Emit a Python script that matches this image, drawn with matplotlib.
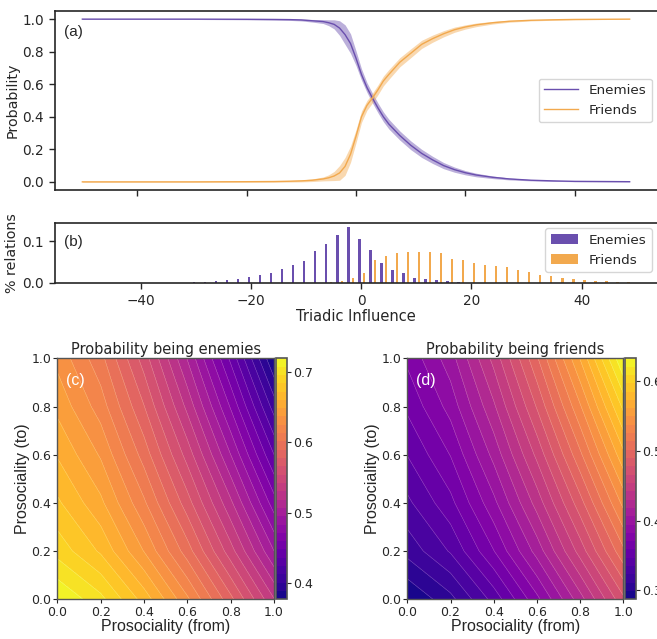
import numpy as np
import matplotlib.pyplot as plt

# --- panel (a): probability vs triadic influence ---
infl = [-50, -30, -20, -15, -12, -10, -8, -6, -5, -4, -3, -2, -1, 0, 1, 2, 3, 4, 5, 6,
        8, 10, 12, 14, 16, 18, 20, 22, 25, 28, 32, 36, 40, 50]
enemies_p = [1.0, 1.0, 0.999, 0.998, 0.997, 0.995, 0.99, 0.985, 0.978, 0.968, 0.945, 0.905,
             0.85, 0.76, 0.66, 0.58, 0.515, 0.455, 0.40, 0.355, 0.285, 0.225, 0.175, 0.135,
             0.10, 0.075, 0.056, 0.042, 0.028, 0.018, 0.01, 0.006, 0.003, 0.001]
friends_p = [0.0, 0.0, 0.001, 0.002, 0.004, 0.006, 0.01, 0.018, 0.025, 0.036, 0.055, 0.095,
             0.17, 0.28, 0.40, 0.47, 0.515, 0.565, 0.62, 0.66, 0.735, 0.79, 0.845, 0.88,
             0.91, 0.935, 0.952, 0.965, 0.978, 0.987, 0.993, 0.996, 0.998, 1.0]
# half width of the shaded band
enemies_err = [0.002, 0.002, 0.003, 0.004, 0.005, 0.006, 0.008, 0.012, 0.018, 0.028, 0.045, 0.06,
               0.06, 0.045, 0.035, 0.03, 0.03, 0.03, 0.03, 0.03, 0.028, 0.027, 0.025, 0.022,
               0.019, 0.016, 0.013, 0.011, 0.008, 0.006, 0.004, 0.003, 0.002, 0.001]
friends_err = [0.002, 0.002, 0.003, 0.004, 0.005, 0.006, 0.008, 0.012, 0.018, 0.028, 0.045, 0.055,
               0.05, 0.04, 0.035, 0.03, 0.03, 0.03, 0.03, 0.03, 0.028, 0.027, 0.025, 0.022,
               0.019, 0.016, 0.013, 0.011, 0.008, 0.006, 0.004, 0.003, 0.002, 0.001]

# --- panel (b): share of relations ---
bins = list(range(-50, 50, 2))
enemies_rel = [0] * 10 + [0.002, 0.002, 0.005, 0.007, 0.009, 0.014, 0.018, 0.025, 0.033, 0.044,
                          0.053, 0.076, 0.094, 0.115, 0.133, 0.105, 0.078, 0.048, 0.030, 0.024,
                          0.011, 0.009, 0.006, 0.004, 0.003] + [0] * 15
friends_rel = [0] * 22 + [0.002, 0.004, 0.013, 0.025, 0.054, 0.065, 0.071, 0.075, 0.075, 0.073,
                          0.071, 0.057, 0.054, 0.048, 0.044, 0.040, 0.037, 0.032, 0.027, 0.018,
                          0.017, 0.012, 0.010, 0.006, 0.005, 0.004, 0.002, 0.002]

# --- panels (c), (d): prosociality grids (rows = to, cols = from) ---
pros = [0.0, 0.2, 0.4, 0.6, 0.8, 1.0]
enemies_grid = [
    [0.719, 0.699, 0.667, 0.627, 0.581, 0.531],
    [0.691, 0.670, 0.636, 0.595, 0.547, 0.495],
    [0.674, 0.651, 0.615, 0.571, 0.521, 0.465],
    [0.659, 0.635, 0.596, 0.549, 0.495, 0.436],
    [0.645, 0.619, 0.578, 0.527, 0.470, 0.407],
    [0.633, 0.605, 0.560, 0.506, 0.445, 0.377],
]
friends_grid = [
    [0.287, 0.307, 0.339, 0.379, 0.425, 0.475],
    [0.315, 0.336, 0.370, 0.411, 0.459, 0.511],
    [0.332, 0.355, 0.391, 0.435, 0.485, 0.541],
    [0.347, 0.371, 0.410, 0.457, 0.511, 0.570],
    [0.361, 0.387, 0.428, 0.479, 0.536, 0.600],
    [0.373, 0.401, 0.446, 0.500, 0.562, 0.633],
]

PURPLE = '#6a4fae'
ORANGE = '#f2a94e'
EDGE = '#262626'
ARIAL = 'Liberation Sans'

plt.rcParams['font.family'] = 'DejaVu Sans'
plt.rcParams['axes.edgecolor'] = EDGE
plt.rcParams['axes.linewidth'] = 1.2
plt.rcParams['xtick.color'] = EDGE
plt.rcParams['ytick.color'] = EDGE
plt.rcParams['text.color'] = EDGE
plt.rcParams['axes.labelcolor'] = EDGE

W, H = 657, 639
fig = plt.figure(figsize=(W / 100, H / 100), dpi=100)


def box(x0, y0, x1, y1):
    # pixel box (top-left origin) -> figure fraction
    return [x0 / W, 1 - y1 / H, (x1 - x0) / W, (y1 - y0) / H]


# (a)
ax = fig.add_axes(box(55, 11, 657, 190))
x = np.array(infl)
for p, e, c, lab in [(enemies_p, enemies_err, PURPLE, 'Enemies'),
                     (friends_p, friends_err, ORANGE, 'Friends')]:
    p = np.array(p)
    e = np.array(e)
    ax.fill_between(x, p - e, p + e, color=c, alpha=0.45, lw=0)
    ax.plot(x, p, color=c, lw=1.0, label=lab)
ax.set_xlim(-55, 55)
ax.set_ylim(-0.05, 1.05)
ax.set_xticks([-40, -20, 0, 20, 40])
ax.set_xticklabels([])
ax.set_yticks([0.0, 0.2, 0.4, 0.6, 0.8, 1.0])
ax.set_ylabel('Probability', fontsize=10.3, labelpad=2)
ax.tick_params(labelsize=9.8, length=4.5, width=1)
ax.spines['right'].set_visible(False)
ax.text(0.015, 0.86, '(a)', transform=ax.transAxes, fontsize=11, family=ARIAL)
ax.legend(loc='center right', fontsize=9.7, handlelength=2.5, borderaxespad=0.4)

# (b)
ax = fig.add_axes(box(55, 223, 657, 283))
b = np.array(bins)
ax.bar(b - 0.35, enemies_rel, width=0.45, color=PURPLE, label='Enemies')
ax.bar(b + 0.5, friends_rel, width=0.45, color=ORANGE, label='Friends')
ax.set_xlim(-55.6, 53.7)
ax.set_ylim(0, 0.143)
ax.set_xticks([-40, -20, 0, 20, 40])
ax.set_yticks([0.0, 0.1])
ax.set_xlabel('Triadic Influence', fontsize=10.5, labelpad=1)
ax.set_ylabel('% relations', fontsize=10.3, labelpad=2)
ax.tick_params(labelsize=9.8, length=4.5, width=1)
ax.spines['right'].set_visible(False)
ax.text(0.015, 0.62, '(b)', transform=ax.transAxes, fontsize=11, family=ARIAL)
ax.legend(loc='upper right', fontsize=9.7, borderaxespad=0.4)

# (c), (d)
panels = [
    (enemies_grid, 'Probability being enemies', '(c)', (57.3, 274, 275.7, 286.7), [0.4, 0.5, 0.6, 0.7]),
    (friends_grid, 'Probability being friends', '(d)', (407.3, 623.3, 624.7, 636), [0.3, 0.4, 0.5, 0.6]),
]
for grid, title, tag, (l, r, cl, cr), cticks in panels:
    ax = fig.add_axes(box(l, 358.3, r, 599.3))
    cax = fig.add_axes(box(cl, 358.3, cr, 599.3))
    z = np.array(grid)
    levels = np.linspace(z.min(), z.max(), 30)
    cf = ax.contourf(pros, pros, z, levels=levels, cmap='plasma')
    ax.contour(pros, pros, z, levels=levels, colors='white', linewidths=0.3, alpha=0.4)
    ax.set_xticks([0, 0.2, 0.4, 0.6, 0.8, 1.0])
    ax.set_yticks([0, 0.2, 0.4, 0.6, 0.8, 1.0])
    ax.tick_params(labelsize=9, length=3, width=0.8, pad=1.5)
    ax.set_xlabel('Prosociality (from)', fontsize=11.5, family=ARIAL, labelpad=0)
    ax.set_ylabel('Prosociality (to)', fontsize=11.5, family=ARIAL, labelpad=1)
    ax.set_title(title, fontsize=10.5, pad=3)
    ax.text(0.04, 0.94, tag, transform=ax.transAxes, fontsize=11.5, family=ARIAL,
            color='white', va='top')
    for s in ax.spines.values():
        s.set_color('#555555')
        s.set_linewidth(1)
    cb = fig.colorbar(cf, cax=cax, ticks=cticks)
    cb.ax.tick_params(labelsize=9, length=3, width=0.8, pad=1.5)
    cb.outline.set_edgecolor('#555555')
    cb.ax.set_yticklabels(['%.1f' % t for t in cticks])

fig.savefig('out.png', dpi=100)
